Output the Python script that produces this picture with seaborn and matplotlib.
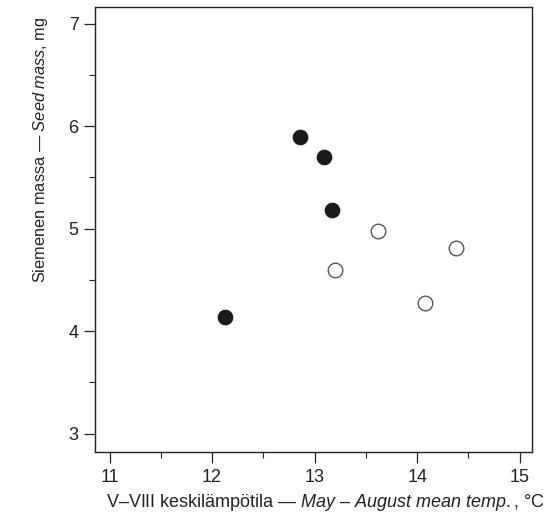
import numpy as np
import pandas as pd
import matplotlib
matplotlib.use("Agg")
import matplotlib.pyplot as plt
from matplotlib.ticker import MultipleLocator
import seaborn as sns

# data
filled_temp = [12.13, 12.86, 13.09, 13.17]
filled_mass = [4.14, 5.89, 5.70, 5.18]
open_temp = [13.20, 13.62, 14.08, 14.38]
open_mass = [4.60, 4.98, 4.27, 4.81]

x_ticks = [11, 12, 13, 14, 15]
y_ticks = [3, 4, 5, 6, 7]

df = pd.DataFrame({
    "temp": filled_temp + open_temp,
    "mass": filled_mass + open_mass,
    "group": ["filled"] * len(filled_temp) + ["open"] * len(open_temp),
})

sns.set_style("ticks")
plt.rcParams["font.family"] = ["Liberation Sans", "DejaVu Sans"]
plt.rcParams["mathtext.fontset"] = "custom"
plt.rcParams["mathtext.rm"] = "Liberation Sans"
plt.rcParams["mathtext.it"] = "Liberation Sans:italic"

fig = plt.figure(figsize=(5.6, 5.13), dpi=100)
ax = fig.add_axes([0.170, 0.119, 0.780, 0.867])

sns.scatterplot(data=df[df.group == "filled"], x="temp", y="mass", ax=ax,
                s=110, color="#1a1a1a", edgecolor="#1a1a1a", linewidth=0.8)
sns.scatterplot(data=df[df.group == "open"], x="temp", y="mass", ax=ax,
                s=110, facecolor="white", edgecolor="#555555", linewidth=1.0)

ax.set_xlim(10.86, 15.12)
ax.set_ylim(2.82, 7.16)
ax.set_xticks(x_ticks)
ax.set_yticks(y_ticks)
ax.xaxis.set_minor_locator(MultipleLocator(0.5))
ax.yaxis.set_minor_locator(MultipleLocator(0.5))
ax.tick_params(which="major", length=8, width=0.9, pad=4, labelsize=13, colors="#222222")
ax.tick_params(which="minor", length=4.5, width=0.8, colors="#222222")

for sp in ax.spines.values():
    sp.set_linewidth(1.0)
    sp.set_color("#222222")

ax.set_xlabel("V\u2013VIII keskilämpötila \u2014 $\\it{May\\ \u2013\\ August\\ mean\\ temp.}\\mathrm{,}$ \u00b0C",
              fontsize=13, color="#222222")
ax.set_ylabel("Siemenen massa \u2014 $\\it{Seed\\ mass}$, mg", fontsize=11.8, color="#222222")
ax.yaxis.set_label_coords(-0.104, 0.679)
ax.xaxis.set_label_coords(0.526, -0.09)

fig.savefig("out.png", dpi=100)
